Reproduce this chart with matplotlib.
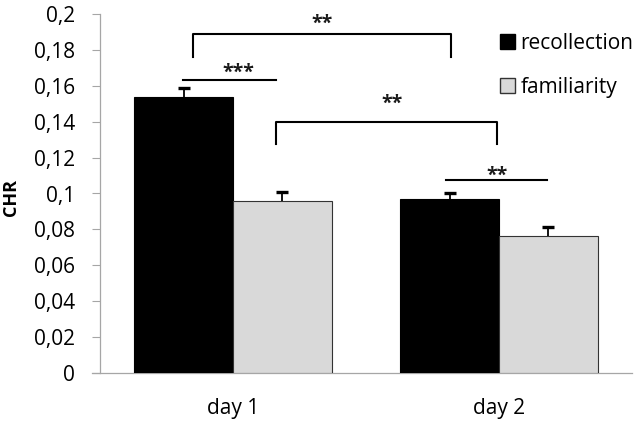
import matplotlib
matplotlib.use("Agg")
import matplotlib.pyplot as plt
from matplotlib.patches import Patch
import numpy as np

days = ["day 1", "day 2"]
series = ["recollection", "familiarity"]
recollection = [0.154, 0.0968]
familiarity = [0.0958, 0.0763]
rec_err = [0.005, 0.0036]
fam_err = [0.005, 0.0052]
yticks = [0, 0.02, 0.04, 0.06, 0.08, 0.1, 0.12, 0.14, 0.16, 0.18, 0.2]
ytick_labels = ["0", "0,02", "0,04", "0,06", "0,08", "0,1", "0,12", "0,14", "0,16", "0,18", "0,2"]

# significance annotations: (x_left, x_right, y_top, leg_drop, label, star_x, star_y)
sig_lines = [
    (-0.188, 0.162, 0.163, 0.0, "***", 0.019, 0.1705),
    (-0.150, 0.820, 0.189, 0.013, "**", 0.335, 0.198),
    (0.162, 0.9925, 0.140, 0.0124, "**", 0.598, 0.1532),
    (0.800, 1.180, 0.1075, 0.0, "**", 0.9925, 0.1131),
]

plt.rcParams['font.family'] = ['Open Sans', 'DejaVu Sans']

fig = plt.figure(figsize=(6.38, 4.23), dpi=100)
ax = fig.add_axes([100/638, 50/423, 532/638, 359/423])

x = np.arange(len(days))
w = 0.372
grey = "#d9d9d9"
ax.bar(x - w/2, recollection, w, color="black", edgecolor="black", linewidth=0.8, zorder=2)
ax.bar(x + w/2, familiarity, w, color=grey, edgecolor="#333333", linewidth=0.8, zorder=2)
for xs, vals, errs in [(x - w/2, recollection, rec_err), (x + w/2, familiarity, fam_err)]:
    eb = ax.errorbar(xs, vals, yerr=[np.zeros(len(days)), errs], fmt='none',
                     ecolor="black", elinewidth=1.3, capsize=4.2, capthick=2.4, zorder=3)
    caps = eb[1]
    # hide the lower caps (at bar tops); keep only upward error caps
    for c in caps:
        if np.allclose(c.get_ydata(), vals):
            c.set_visible(False)

ax.set_xlim(-0.5, 1.5)
ax.set_ylim(0, 0.2)
ax.set_yticks(yticks)
ax.set_yticklabels(ytick_labels, fontsize=15)
ax.set_xticks(x)
ax.set_xticklabels(days, fontsize=15)
ax.tick_params(axis='x', length=0, pad=18)
ax.tick_params(axis='y', length=5.8, width=0.8, color="#a6a6a6", pad=12)
for s in ["top", "right"]:
    ax.spines[s].set_visible(False)
for s in ["left", "bottom"]:
    ax.spines[s].set_color("#a6a6a6")
    ax.spines[s].set_linewidth(0.9)
ax.spines["bottom"].set_bounds(-0.5 - 8/266, 1.5)
ax.spines["bottom"].set_zorder(1)

ax.text(-0.167, 0.489, "CHR", rotation=90, ha="center", va="center",
        fontsize=13, fontweight="bold", transform=ax.transAxes)

off = 11 / 1795.0
for xl, xr, yt, drop, lab, sx, sy in sig_lines:
    if drop > 0:
        ax.plot([xl, xl, xr, xr], [yt - drop, yt, yt, yt - drop], color="black", lw=1.5,
                solid_joinstyle="round", clip_on=False, zorder=4)
    else:
        ax.plot([xl, xr], [yt, yt], color="black", lw=1.5, clip_on=False, zorder=4)
    ax.text(sx, sy - off, lab, ha="center", va="baseline", fontsize=14,
            fontweight="bold", color="#1a1a1a")

handles = [Patch(facecolor="black", edgecolor="black"),
           Patch(facecolor=grey, edgecolor="#333333")]
fig.legend(handles, series, loc="upper left", bbox_to_anchor=(496/638, 1 - 29/423),
           frameon=False, fontsize=15, handlelength=0.72, handleheight=0.72,
           handletextpad=0.25, labelspacing=1.08, borderaxespad=0, borderpad=0.2)

fig.savefig("out.png", dpi=100)
